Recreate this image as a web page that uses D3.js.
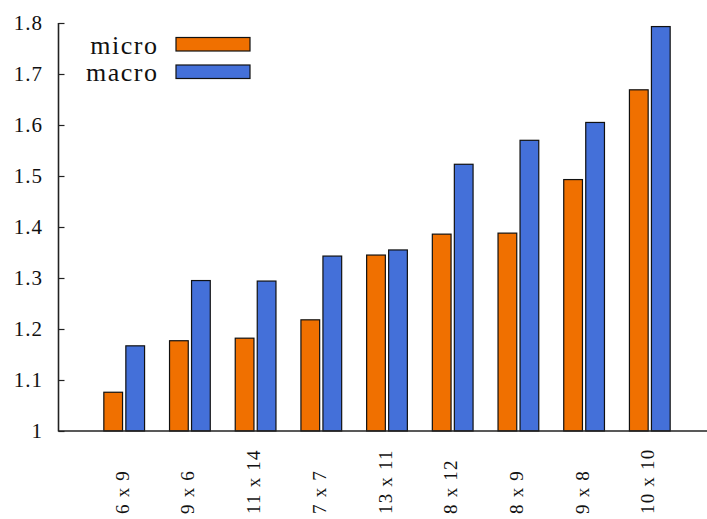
<!DOCTYPE html>
<html>
<head>
<meta charset="utf-8">
<script src="https://cdn.jsdelivr.net/npm/d3@7"></script>
<style>
  html, body { margin: 0; padding: 0; background: #fff; }
  svg { display: block; }
  text { font-family: "Liberation Serif", "DejaVu Serif", serif; fill: #111; }
</style>
</head>
<body>
<svg id="chart" width="707" height="519"></svg>
<script>
const categories = ["6 x 9", "9 x 6", "11 x 14", "7 x 7", "13 x 11", "8 x 12", "8 x 9", "9 x 8", "10 x 10"];
const microValues = [1.076, 1.177, 1.182, 1.218, 1.345, 1.386, 1.388, 1.493, 1.669];
const macroValues = [1.167, 1.295, 1.294, 1.343, 1.355, 1.523, 1.570, 1.605, 1.793];
const seriesNames = ["micro", "macro"];
const seriesColors = ["#f07000", "#4470d9"];
const yTicks = [1, 1.1, 1.2, 1.3, 1.4, 1.5, 1.6, 1.7, 1.8];
const yTickLabels = ["1", "1.1", "1.2", "1.3", "1.4", "1.5", "1.6", "1.7", "1.8"];

const svg = d3.select("#chart");
const W = 707, H = 519;

const x = d3.scaleLinear().domain([0, 10]).range([58.5, 715.5]);
const y = d3.scaleLinear().domain([1, 1.8]).range([431, 23]);

const barW = 0.285, gap = 0.025;

const series = [microValues, macroValues];

// bars
series.forEach((vals, s) => {
  svg.append("g").selectAll("rect")
    .data(vals)
    .join("rect")
    .attr("x", (d, i) => s === 0 ? x(i + 1 - gap - barW) : x(i + 1 + gap))
    .attr("width", x(barW) - x(0))
    .attr("y", d => y(d))
    .attr("height", d => y(1) - y(d))
    .attr("fill", seriesColors[s])
    .attr("stroke", "#111")
    .attr("stroke-width", 1.2);
});

// y axis
const yAxis = d3.axisRight(y).tickValues(yTicks).tickSize(6).tickFormat("");
const gy = svg.append("g").attr("transform", `translate(${x(0)},0)`).call(yAxis);
gy.select(".domain").remove();
gy.selectAll(".tick line").attr("stroke", "#222").attr("stroke-width", 1.2);

svg.append("line")
  .attr("x1", x(0)).attr("x2", x(0))
  .attr("y1", y(1.8)).attr("y2", y(1) + 0.5)
  .attr("stroke", "#222").attr("stroke-width", 1.6);
svg.append("line")
  .attr("x1", x(0)).attr("x2", W)
  .attr("y1", y(1)).attr("y2", y(1))
  .attr("stroke", "#222").attr("stroke-width", 1.6);

// y tick labels
svg.append("g").selectAll("text")
  .data(yTicks)
  .join("text")
  .attr("x", 43)
  .attr("y", d => y(d) + 7)
  .attr("text-anchor", "end")
  .attr("font-size", 21)
  .attr("letter-spacing", 1)
  .text((d, i) => yTickLabels[i]);

// x category labels (rotated)
svg.append("g").selectAll("text")
  .data(categories)
  .join("text")
  .attr("transform", (d, i) => `translate(${x(i + 1) + 4.5},514) rotate(-90)`)
  .attr("text-anchor", "start")
  .attr("font-size", 19)
  .attr("letter-spacing", 1.2)
  .text(d => d);

// legend
const legendY = [37.5, 65];
seriesNames.forEach((name, s) => {
  svg.append("rect")
    .attr("x", 176).attr("y", legendY[s])
    .attr("width", 74).attr("height", 13.5)
    .attr("fill", seriesColors[s])
    .attr("stroke", "#111").attr("stroke-width", 1.2);
  svg.append("text")
    .attr("x", 158.5)
    .attr("y", legendY[s] + 16)
    .attr("text-anchor", "end")
    .attr("font-size", 26)
    .attr("letter-spacing", 1.5)
    .text(name);
});
</script>
</body>
</html>
